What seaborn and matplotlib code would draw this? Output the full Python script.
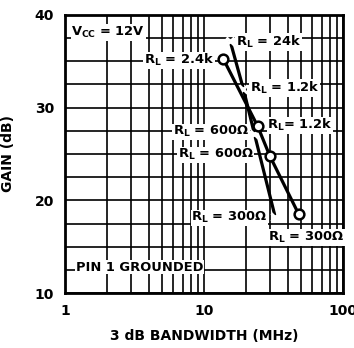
import numpy as np
import pandas as pd
import matplotlib
matplotlib.use("Agg")
import matplotlib.pyplot as plt
import seaborn as sns
from matplotlib.ticker import FixedLocator, NullFormatter

# datos
bw_x = [15.4, 19.2, 23.0, 32.5]          # curva con cruces (MHz)
gain_x = [37.2, 32.0, 27.2, 18.2]        # dB
bw_o = [13.7, 24.3, 29.7, 48.0]          # curva con circulos (MHz)
gain_o = [35.3, 28.0, 24.8, 18.5]

y_ticks = [10, 20, 30, 40]
x_ticks = [1, 10, 100]
x_labels = ["1", "10", "100"]

sns.set_style("white")
plt.rcParams["font.family"] = ["DejaVu Sans"]
plt.rcParams["font.weight"] = "bold"
plt.rcParams["mathtext.fontset"] = "custom"
plt.rcParams["mathtext.rm"] = "DejaVu Sans:bold"
plt.rcParams["mathtext.it"] = "DejaVu Sans:bold"
plt.rcParams["mathtext.bf"] = "DejaVu Sans:bold"
plt.rcParams["mathtext.default"] = "rm"
for k in ["text.color", "axes.labelcolor", "xtick.color", "ytick.color"]:
    plt.rcParams[k] = "black"

fig = plt.figure(figsize=(3.54, 3.48), dpi=100)
ax = fig.add_axes([0.184, 0.158, 0.785, 0.799])

df_x = pd.DataFrame({"bw": bw_x, "gain": gain_x})
df_o = pd.DataFrame({"bw": bw_o, "gain": gain_o})

sns.lineplot(data=df_x, x="bw", y="gain", sort=False, color="black", lw=2.3,
             marker="x", markersize=6, markeredgewidth=2, ax=ax)
sns.lineplot(data=df_o, x="bw", y="gain", sort=False, color="black", lw=2.3,
             marker="o", markersize=7, markerfacecolor="white",
             markeredgecolor="black", markeredgewidth=1.8, ax=ax)
for ln in ax.lines:
    ln.set_zorder(6)

ax.set_xscale("log")
ax.set_xlim(1, 100)
ax.set_ylim(10, 40)
ax.xaxis.set_major_locator(FixedLocator(x_ticks))
ax.set_xticklabels(x_labels)
ax.xaxis.set_minor_locator(FixedLocator([m * d for d in (1, 10) for m in range(2, 10)]))
ax.xaxis.set_minor_formatter(NullFormatter())
ax.yaxis.set_major_locator(FixedLocator(y_ticks))
ax.yaxis.set_minor_locator(FixedLocator(np.arange(12.5, 40, 2.5)))
ax.grid(which="both", color="black", lw=1.2)
ax.tick_params(which="both", length=0, labelsize=10, pad=8)
for s in ax.spines.values():
    s.set_color("black")
    s.set_linewidth(2)

ax.set_xlabel("3 dB BANDWIDTH (MHz)", fontsize=10, fontweight="bold", labelpad=8)
ax.set_ylabel("GAIN (dB)", fontsize=10, fontweight="bold", labelpad=14)

box = dict(facecolor="white", edgecolor="none", pad=0.5)
kw = dict(fontsize=9.4, fontweight="bold", va="center", bbox=box, zorder=4)
ax.text(1.11, 38.1, "V$_{CC}$ = 12V", ha="left", **kw)
ax.text(16.9, 37.1, "R$_L$ = 24k", ha="left", **kw)
ax.text(11.8, 35.1, "R$_L$ = 2.4k", ha="right", **kw)
ax.text(21.3, 32.1, "R$_L$ = 1.2k", ha="left", **kw)
ax.text(28.5, 28.1, "R$_L$= 1.2k", ha="left", **kw)
ax.text(21.0, 27.4, "R$_L$ = 600Ω", ha="right", **kw)
ax.text(22.8, 24.9, "R$_L$ = 600Ω", ha="right", **kw)
ax.text(28.5, 18.1, "R$_L$ = 300Ω", ha="right", **kw)
ax.text(29.0, 16.0, "R$_L$ = 300Ω", ha="left", **kw)
ax.text(1.19, 12.8, "PIN 1 GROUNDED", ha="left", **kw)

fig.savefig("out.png", dpi=100)
